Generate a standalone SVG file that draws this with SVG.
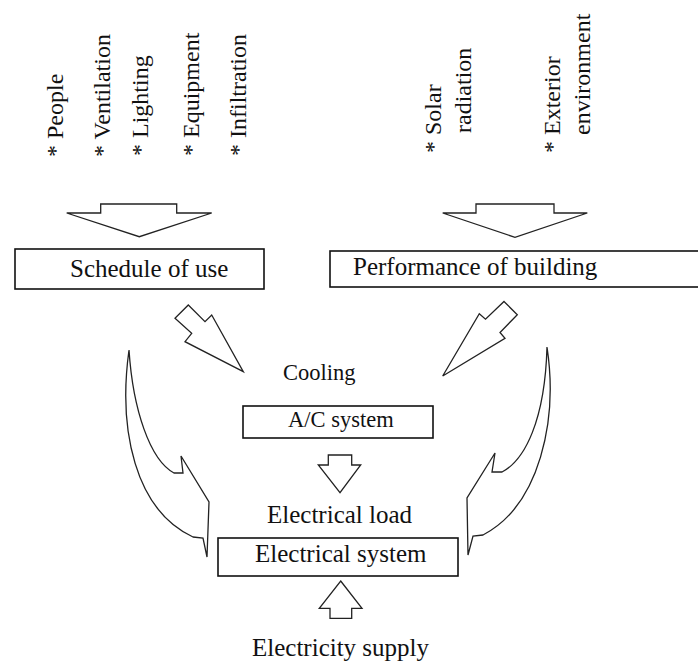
<svg xmlns="http://www.w3.org/2000/svg" width="698" height="662" viewBox="0 0 698 662">
<style>
  .t { font-family: "Liberation Serif", "Times New Roman", serif; font-size: 25px; fill: #111; }
  .v { font-size: 24px; }
  .s { font-size: 22.5px; }
  .box { fill: #fff; stroke: #111; stroke-width: 1.6; }
  .arr { fill: #fff; stroke: #222; stroke-width: 1.3; stroke-linejoin: miter; }
</style>
<rect width="698" height="662" fill="#fff"/>

<g id="inputs-use">
  <text class="t v" transform="translate(63,157) rotate(-90)">* People</text>
  <text class="t v" transform="translate(110,157) rotate(-90)">* Ventilation</text>
  <text class="t v" transform="translate(148,156) rotate(-90)">* Lighting</text>
  <text class="t v" transform="translate(199,156) rotate(-90)">* Equipment</text>
  <text class="t v" transform="translate(246,156) rotate(-90)">* Infiltration</text>
</g>
<g id="inputs-building">
  <text class="t v" transform="translate(441,153) rotate(-90)">* Solar</text>
  <text class="t v" transform="translate(471,133) rotate(-90)">radiation</text>
  <text class="t v" transform="translate(560,153) rotate(-90)">* Exterior</text>
  <text class="t v" transform="translate(590,135) rotate(-90)">environment</text>
</g>

<g id="schedule-of-use">
  <rect class="box" x="15" y="249" width="249" height="40"/>
  <text class="t" x="70" y="277">Schedule of use</text>
</g>
<g id="performance-of-building">
  <rect class="box" x="330" y="251" width="380" height="36"/>
  <text class="t" x="353" y="275">Performance of building</text>
</g>
<g id="cooling">
  <text class="t s" x="283" y="380">Cooling</text>
</g>
<g id="ac-system">
  <rect class="box" x="243" y="406" width="190" height="32"/>
  <text class="t s" x="288" y="427">A/C system</text>
</g>
<g id="electrical-load">
  <text class="t" x="267" y="523">Electrical load</text>
</g>
<g id="electrical-system">
  <rect class="box" x="218" y="538" width="240" height="38"/>
  <text class="t" x="255" y="562">Electrical system</text>
</g>
<g id="electricity-supply">
  <text class="t" x="252" y="656">Electricity supply</text>
</g>

<g id="connectors">
  <polygon class="arr" points="100.7,204 176.7,204 176.7,213 211.7,213 139.3,236.7 66.7,213 100.7,213"/>
  <polygon class="arr" points="476,204 554,204 554,213 587.3,213 515,237.3 442.7,213 476,213"/>
  <polygon class="arr" points="188.3,305 205,321.7 211.7,315 243.3,371.7 185,341.7 191.7,333.3 175,318.3"/>
  <polygon class="arr" points="504,301.5 517.3,314.7 500,332.5 505,338.3 442.7,376 479.3,313.7 485.5,319.2"/>
  <path class="arr" d="M129,350 C118,430 135,510 193,537 L203,538 L207,557 L209,502 L181,456 L183,473 L174,473 C150,460 133,410 129,350 Z"/>
  <path class="arr" d="M547,347 C558,420 540,505 483,535 L473,536 L468,555 L467,498 L495,453 L492,472 L502,472 C525,460 545,420 547,347 Z"/>
  <polygon class="arr" points="328.3,455 351.7,455 351.7,465 360.7,465 340,492.7 318.3,465 328.3,465"/>
  <polygon class="arr" points="340.7,581 362,608.3 351.7,608.3 351.7,618.3 330,618.3 330,608.3 319.3,608.3"/>
</g>
</svg>
